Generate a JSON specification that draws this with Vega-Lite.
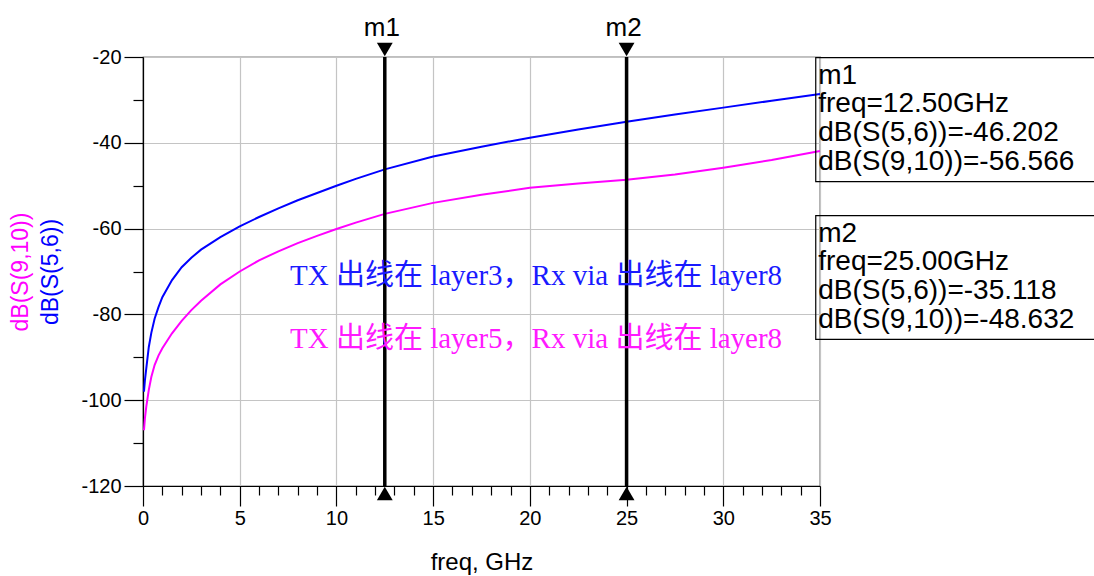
{
  "$schema": "https://vega.github.io/schema/vega-lite/v6.json",
  "width": 677,
  "height": 429,
  "autosize": {"type": "none"},
  "padding": {"left": 143, "top": 57, "right": 274, "bottom": 90},
  "background": "white",
  "config": {
    "view": {"stroke": "#000000", "strokeWidth": 1.2},
    "font": "Liberation Sans",
    "axis": {"labelFont": "Liberation Sans", "titleFont": "Liberation Sans", "titleFontWeight": "normal", "labelFlush": false, "labelOverlap": false}
  },
  "datasets": {
    "curves": [
      {"freq": 0.05, "dB": -98.0, "trace": "dB(S(5,6))"},
      {"freq": 0.1, "dB": -95.3, "trace": "dB(S(5,6))"},
      {"freq": 0.17, "dB": -92.6, "trace": "dB(S(5,6))"},
      {"freq": 0.3, "dB": -87.6, "trace": "dB(S(5,6))"},
      {"freq": 0.43, "dB": -84.3, "trace": "dB(S(5,6))"},
      {"freq": 0.6, "dB": -81.0, "trace": "dB(S(5,6))"},
      {"freq": 0.8, "dB": -78.3, "trace": "dB(S(5,6))"},
      {"freq": 1.0, "dB": -76.0, "trace": "dB(S(5,6))"},
      {"freq": 1.5, "dB": -72.0, "trace": "dB(S(5,6))"},
      {"freq": 2.0, "dB": -69.0, "trace": "dB(S(5,6))"},
      {"freq": 2.5, "dB": -66.8, "trace": "dB(S(5,6))"},
      {"freq": 3.0, "dB": -64.9, "trace": "dB(S(5,6))"},
      {"freq": 4.0, "dB": -62.0, "trace": "dB(S(5,6))"},
      {"freq": 5.0, "dB": -59.5, "trace": "dB(S(5,6))"},
      {"freq": 6.0, "dB": -57.3, "trace": "dB(S(5,6))"},
      {"freq": 7.0, "dB": -55.3, "trace": "dB(S(5,6))"},
      {"freq": 8.0, "dB": -53.4, "trace": "dB(S(5,6))"},
      {"freq": 9.0, "dB": -51.7, "trace": "dB(S(5,6))"},
      {"freq": 10.0, "dB": -50.0, "trace": "dB(S(5,6))"},
      {"freq": 11.0, "dB": -48.4, "trace": "dB(S(5,6))"},
      {"freq": 12.5, "dB": -46.202, "trace": "dB(S(5,6))"},
      {"freq": 15.0, "dB": -43.2, "trace": "dB(S(5,6))"},
      {"freq": 17.5, "dB": -40.9, "trace": "dB(S(5,6))"},
      {"freq": 20.0, "dB": -38.8, "trace": "dB(S(5,6))"},
      {"freq": 22.5, "dB": -36.9, "trace": "dB(S(5,6))"},
      {"freq": 25.0, "dB": -35.118, "trace": "dB(S(5,6))"},
      {"freq": 27.5, "dB": -33.4, "trace": "dB(S(5,6))"},
      {"freq": 30.0, "dB": -31.8, "trace": "dB(S(5,6))"},
      {"freq": 32.5, "dB": -30.2, "trace": "dB(S(5,6))"},
      {"freq": 35.0, "dB": -28.6, "trace": "dB(S(5,6))"},
      {"freq": 0.05, "dB": -107.0, "trace": "dB(S(9,10))"},
      {"freq": 0.1, "dB": -104.2, "trace": "dB(S(9,10))"},
      {"freq": 0.17, "dB": -101.5, "trace": "dB(S(9,10))"},
      {"freq": 0.3, "dB": -97.6, "trace": "dB(S(9,10))"},
      {"freq": 0.43, "dB": -94.6, "trace": "dB(S(9,10))"},
      {"freq": 0.6, "dB": -91.8, "trace": "dB(S(9,10))"},
      {"freq": 0.8, "dB": -89.6, "trace": "dB(S(9,10))"},
      {"freq": 1.0, "dB": -87.9, "trace": "dB(S(9,10))"},
      {"freq": 1.5, "dB": -84.4, "trace": "dB(S(9,10))"},
      {"freq": 2.0, "dB": -81.5, "trace": "dB(S(9,10))"},
      {"freq": 2.5, "dB": -79.0, "trace": "dB(S(9,10))"},
      {"freq": 3.0, "dB": -76.8, "trace": "dB(S(9,10))"},
      {"freq": 4.0, "dB": -73.0, "trace": "dB(S(9,10))"},
      {"freq": 5.0, "dB": -70.0, "trace": "dB(S(9,10))"},
      {"freq": 6.0, "dB": -67.4, "trace": "dB(S(9,10))"},
      {"freq": 7.0, "dB": -65.3, "trace": "dB(S(9,10))"},
      {"freq": 8.0, "dB": -63.4, "trace": "dB(S(9,10))"},
      {"freq": 9.0, "dB": -61.7, "trace": "dB(S(9,10))"},
      {"freq": 10.0, "dB": -60.1, "trace": "dB(S(9,10))"},
      {"freq": 11.0, "dB": -58.6, "trace": "dB(S(9,10))"},
      {"freq": 12.5, "dB": -56.566, "trace": "dB(S(9,10))"},
      {"freq": 15.0, "dB": -54.0, "trace": "dB(S(9,10))"},
      {"freq": 17.5, "dB": -52.1, "trace": "dB(S(9,10))"},
      {"freq": 20.0, "dB": -50.5, "trace": "dB(S(9,10))"},
      {"freq": 22.5, "dB": -49.5, "trace": "dB(S(9,10))"},
      {"freq": 25.0, "dB": -48.632, "trace": "dB(S(9,10))"},
      {"freq": 27.5, "dB": -47.4, "trace": "dB(S(9,10))"},
      {"freq": 30.0, "dB": -45.8, "trace": "dB(S(9,10))"},
      {"freq": 32.5, "dB": -44.0, "trace": "dB(S(9,10))"},
      {"freq": 35.0, "dB": -41.9, "trace": "dB(S(9,10))"}
    ],
    "markers": [
      {"name": "m1", "freq": 12.5},
      {"name": "m2", "freq": 25.0}
    ]
  },
  "layer": [
    {
      "data": {"name": "curves"},
      "transform": [{"filter": "datum.trace === 'dB(S(5,6))'"}],
      "mark": {"type": "line", "color": "#0000ff", "strokeWidth": 2},
      "encoding": {
        "x": {
          "field": "freq", "type": "quantitative",
          "scale": {"domain": [0, 35], "nice": false, "zero": false},
          "axis": {
            "orient": "bottom",
            "values": [0, 5, 10, 15, 20, 25, 30, 35],
            "labelExpr": "'' + datum.value",
            "tickSize": 20, "tickColor": "#000000", "tickWidth": 1.2,
            "domainColor": "#000000", "domainWidth": 1.2,
            "grid": true, "gridColor": "#c4c4c4", "gridWidth": 1.2,
            "labelFontSize": 20, "labelColor": "#000000", "labelPadding": 2,
            "title": "freq, GHz", "titleFontSize": 24, "titleColor": "#000000", "titlePadding": 22
          }
        },
        "y": {
          "field": "dB", "type": "quantitative",
          "scale": {"domain": [-120, -20], "nice": false, "zero": false},
          "axis": {
            "orient": "left",
            "values": [-120, -100, -80, -60, -40, -20],
            "labelExpr": "'' + datum.value",
            "tickSize": 19, "tickColor": "#000000", "tickWidth": 1.2,
            "domainColor": "#000000", "domainWidth": 1.2,
            "grid": true, "gridColor": "#c4c4c4", "gridWidth": 1.2,
            "labelFontSize": 20, "labelColor": "#000000", "labelPadding": 3,
            "title": "dB(S(5,6))", "titleFontSize": 23, "titleColor": "#0000ff", "titlePadding": 18
          }
        }
      }
    },
    {
      "data": {"name": "curves"},
      "transform": [{"filter": "datum.trace === 'dB(S(9,10))'"}],
      "mark": {"type": "line", "color": "#ff00ff", "strokeWidth": 2},
      "encoding": {
        "x": {
          "field": "freq", "type": "quantitative",
          "axis": {
            "orient": "bottom",
            "values": [1, 2, 3, 4, 6, 7, 8, 9, 11, 12, 13, 14, 16, 17, 18, 19, 21, 22, 23, 24, 26, 27, 28, 29, 31, 32, 33, 34],
            "tickSize": 9, "tickColor": "#000000", "tickWidth": 1.2,
            "domain": false, "grid": false, "labels": false, "title": null
          }
        },
        "y": {
          "field": "dB", "type": "quantitative",
          "axis": {
            "orient": "left",
            "values": [-110, -90, -70, -50, -30],
            "tickSize": 10, "tickColor": "#000000", "tickWidth": 1.2,
            "domain": false, "grid": false, "labels": false,
            "title": "dB(S(9,10))", "titleFontSize": 23, "titleColor": "#ff00ff", "titlePadding": 100
          }
        }
      }
    },
    {
      "data": {"name": "markers"},
      "mark": {"type": "rule", "color": "#000000", "strokeWidth": 3.5},
      "encoding": {
        "x": {"field": "freq", "type": "quantitative", "axis": null}
      }
    },
    {
      "data": {"name": "markers"},
      "mark": {"type": "point", "shape": "triangle-down", "filled": true, "color": "#000000", "size": 250, "opacity": 1},
      "encoding": {
        "x": {"field": "freq", "type": "quantitative", "axis": null},
        "y": {"datum": -18.25, "axis": null}
      }
    },
    {
      "data": {"name": "markers"},
      "mark": {"type": "point", "shape": "triangle-up", "filled": true, "color": "#000000", "size": 250, "opacity": 1},
      "encoding": {
        "x": {"field": "freq", "type": "quantitative", "axis": null},
        "y": {"datum": -121.75, "axis": null}
      }
    },
    {
      "data": {"name": "markers"},
      "mark": {"type": "text", "fontSize": 26, "color": "#000000", "align": "center", "baseline": "alphabetic", "dx": -3},
      "encoding": {
        "x": {"field": "freq", "type": "quantitative", "axis": null},
        "y": {"datum": -15.1, "axis": null},
        "text": {"field": "name"}
      }
    },
    {
      "data": {"values": [{}]},
      "mark": {"type": "rect", "fill": null, "stroke": "#000000", "strokeWidth": 1.2},
      "encoding": {
        "x": {"datum": 34.78, "axis": null},
        "x2": {"datum": 52},
        "y": {"datum": -20.16, "axis": null},
        "y2": {"datum": -49.07}
      }
    },
    {
      "data": {"values": [{}]},
      "mark": {"type": "rect", "fill": null, "stroke": "#000000", "strokeWidth": 1.2},
      "encoding": {
        "x": {"datum": 34.78, "axis": null},
        "x2": {"datum": 52},
        "y": {"datum": -56.99, "axis": null},
        "y2": {"datum": -85.8}
      }
    },
    {
      "data": {"values": [{}]},
      "mark": {"type": "text", "fontSize": 28, "color": "#000000", "align": "left", "baseline": "alphabetic", "lineHeight": 28.7},
      "encoding": {
        "x": {"datum": 34.91, "axis": null},
        "y": {"datum": -26.18, "axis": null},
        "text": {"value": ["m1", "freq=12.50GHz", "dB(S(5,6))=-46.202", "dB(S(9,10))=-56.566"]}
      }
    },
    {
      "data": {"values": [{}]},
      "mark": {"type": "text", "fontSize": 28, "color": "#000000", "align": "left", "baseline": "alphabetic", "lineHeight": 28.8},
      "encoding": {
        "x": {"datum": 34.91, "axis": null},
        "y": {"datum": -63.05, "axis": null},
        "text": {"value": ["m2", "freq=25.00GHz", "dB(S(5,6))=-35.118", "dB(S(9,10))=-48.632"]}
      }
    },
    {
      "data": {"values": [{}]},
      "mark": {"type": "text", "font": "Liberation Serif, Noto Sans CJK SC", "fontSize": 29, "color": "#1a1aff", "align": "left", "baseline": "alphabetic"},
      "encoding": {
        "x": {"datum": 7.6, "axis": null},
        "y": {"datum": -73.15, "axis": null},
        "text": {"value": "TX 出线在 layer3，Rx via 出线在 layer8"}
      }
    },
    {
      "data": {"values": [{}]},
      "mark": {"type": "text", "font": "Liberation Serif, Noto Sans CJK SC", "fontSize": 29, "color": "#ff1aff", "align": "left", "baseline": "alphabetic"},
      "encoding": {
        "x": {"datum": 7.6, "axis": null},
        "y": {"datum": -87.8, "axis": null},
        "text": {"value": "TX 出线在 layer5，Rx via 出线在 layer8"}
      }
    }
  ],
  "resolve": {"axis": {"x": "independent", "y": "independent"}}
}
